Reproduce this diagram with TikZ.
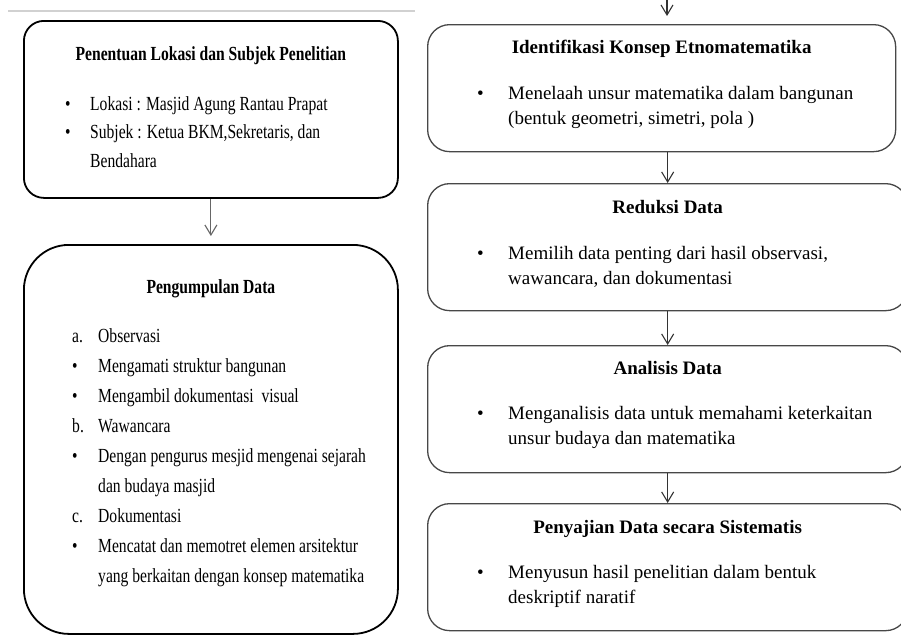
\documentclass[tikz,border=0pt]{standalone}
\usepackage{fontspec}
\setmainfont{Liberation Serif}
\newfontfamily\narrowserif[FakeStretch=0.78]{Liberation Serif}
\usetikzlibrary{arrows.meta,positioning}
\tikzset{
  leftbox/.style={draw=black, line width=1.8pt, minimum width=374pt, inner sep=0pt},
  rightbox/.style={draw=black!72, line width=1.3pt, rounded corners=22pt,
    minimum height=127pt, inner sep=0pt},
  boxtitle/.style={anchor=base, inner sep=0pt},
  boxlist/.style={anchor=base west, inner sep=0pt},
  flow/.style={-{Straight Barb[length=10pt,width=12pt]}, line width=1.1pt},
}
\begin{document}
\begin{tikzpicture}[x=1pt,y=-1pt]
  \useasboundingbox (0,0) rectangle (901,635);
  \clip (0,0) rectangle (901,635);
  % rule at the top of the left column
  \draw [black!18, line width=2.5pt] (8,11) -- (415,11);

  % left column
  \node [leftbox, rounded corners=20pt, minimum height=177pt, anchor=north west]
    (lokasi) at (23,20) {};
  \node [boxtitle, font=\narrowserif\bfseries\fontsize{20}{20}\selectfont]
    (lokasi title) at ([yshift=-40pt]lokasi.north)
    {Penentuan Lokasi dan Subjek Penelitian};
  \node [boxlist, font=\narrowserif\fontsize{20}{28.5}\selectfont]
    (lokasi list) at ([xshift=42pt,yshift=-90pt]lokasi.north west)
    {\begin{tabular}[t]{@{}p{25pt}@{}l@{}}
      \textbullet & Lokasi : Masjid Agung Rantau Prapat\\
      \textbullet & Subjek : Ketua BKM,Sekretaris, dan\\
                  & Bendahara
    \end{tabular}};

  \node [leftbox, rounded corners=45pt, minimum height=389pt, anchor=north west]
    (kumpul) at (23,244) {};
  \node [boxtitle, font=\narrowserif\bfseries\fontsize{20}{20}\selectfont]
    (kumpul title) at ([yshift=-49pt]kumpul.north) {Pengumpulan Data};
  \node [boxlist, font=\narrowserif\fontsize{20}{30}\selectfont]
    (kumpul list) at ([xshift=49pt,yshift=-98pt]kumpul.north west)
    {\begin{tabular}[t]{@{}p{26pt}@{}l@{}}
      a.          & Observasi\\
      \textbullet & Mengamati struktur bangunan\\
      \textbullet & Mengambil dokumentasi\ \ visual\\
      b.          & Wawancara\\
      \textbullet & Dengan pengurus mesjid mengenai sejarah\\
                  & dan budaya masjid\\
      c.          & Dokumentasi\\
      \textbullet & Mencatat dan memotret elemen arsitektur\\
                  & yang berkaitan dengan konsep matematika
    \end{tabular}};

  \draw [flow, black!60, shorten >=8pt] (lokasi.south) -- (kumpul.north);

  % right column
  \node [rightbox, minimum width=468pt, anchor=north west]
    (konsep) at (427,24) {};
  \node [rightbox, minimum width=480pt, anchor=north west]
    (reduksi) at (427,183) {};
  \node [rightbox, minimum width=480pt, anchor=north west]
    (analisis) at (427,345) {};
  \node [rightbox, minimum width=480pt, anchor=north west]
    (sajian) at (427,503) {};

  \begin{scope}[every node/.append style={font=\fontsize{19}{25}\selectfont}]
    \node [boxtitle, font=\bfseries\fontsize{19}{19}\selectfont]
      (konsep title) at ([yshift=-29pt]konsep.north)
      {Identifikasi Konsep Etnomatematika};
    \node [boxlist] (konsep list) at ([xshift=50pt,yshift=-75pt]konsep.north west)
      {\begin{tabular}[t]{@{}p{31pt}@{}l@{}}
        \textbullet & Menelaah unsur matematika dalam bangunan\\
                    & (bentuk geometri, simetri, pola )
      \end{tabular}};

    \node [boxtitle, font=\bfseries\fontsize{19}{19}\selectfont]
      (reduksi title) at ([yshift=-30pt]reduksi.north) {Reduksi Data};
    \node [boxlist] (reduksi list) at ([xshift=50pt,yshift=-76pt]reduksi.north west)
      {\begin{tabular}[t]{@{}p{31pt}@{}l@{}}
        \textbullet & Memilih data penting dari hasil observasi,\\
                    & wawancara, dan dokumentasi
      \end{tabular}};

    \node [boxtitle, font=\bfseries\fontsize{19}{19}\selectfont]
      (analisis title) at ([yshift=-29pt]analisis.north) {Analisis Data};
    \node [boxlist] (analisis list) at ([xshift=50pt,yshift=-74pt]analisis.north west)
      {\begin{tabular}[t]{@{}p{31pt}@{}l@{}}
        \textbullet & Menganalisis data untuk memahami keterkaitan\\
                    & unsur budaya dan matematika
      \end{tabular}};

    \node [boxtitle, font=\bfseries\fontsize{19}{19}\selectfont]
      (sajian title) at ([yshift=-30pt]sajian.north)
      {Penyajian Data secara Sistematis};
    \node [boxlist] (sajian list) at ([xshift=50pt,yshift=-75pt]sajian.north west)
      {\begin{tabular}[t]{@{}p{31pt}@{}l@{}}
        \textbullet & Menyusun hasil penelitian dalam bentuk\\
                    & deskriptif naratif
      \end{tabular}};
  \end{scope}

  \coordinate (from above) at (667,-20);
  \draw [flow, black!80, shorten >=8pt] (from above) -- (from above |- konsep.north);
  \draw [flow, black!80] (konsep.south -| reduksi.north) -- (reduksi.north);
  \draw [flow, black!80] (reduksi.south) -- (analisis.north);
  \draw [flow, black!80] (analisis.south) -- (sajian.north);
\end{tikzpicture}
\end{document}
